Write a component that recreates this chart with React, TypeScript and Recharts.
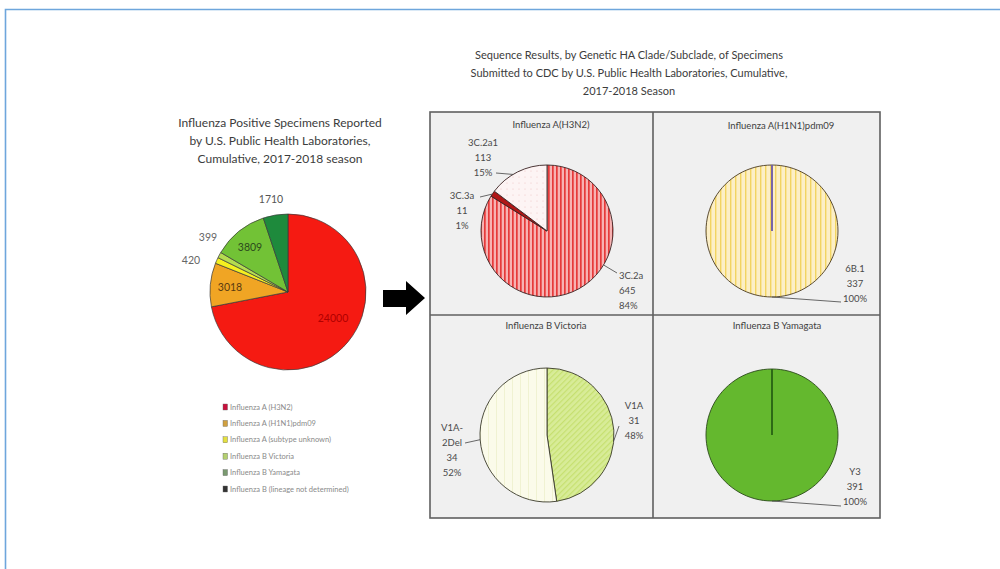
import React from 'react'
import { PieChart, Pie, Cell } from 'recharts'

// Influenza positive specimens, public health labs, cumulative 2017-2018
const typeNames = [
  'Influenza A (H3N2)',
  'Influenza A (H1N1)pdm09',
  'Influenza A (subtype unknown)',
  'Influenza B  Victoria',
  'Influenza B  Yamagata',
  'Influenza B  (lineage not determined)',
]
const typeCounts = [24000, 3018, 420, 399, 3809, 1710]

// sequence results by clade
const h3n2Clades = ['3C.2a', '3C.3a', '3C.2a1']
const h3n2Counts = [645, 11, 113]
const h1n1Clades = ['6B.1']
const h1n1Counts = [337]
const bVicClades = ['V1A', 'V1A-2Del']
const bVicCounts = [31, 34]
const bYamClades = ['Y3']
const bYamCounts = [391]

const toRows = (names: string[], values: number[]) => names.map((name, i) => ({ name, value: values[i] }))

const typeData = toRows(typeNames, typeCounts)
const h3n2Data = toRows(h3n2Clades, h3n2Counts)
const h1n1Data = toRows(h1n1Clades, h1n1Counts)
const bVicData = toRows(bVicClades, bVicCounts)
const bYamData = toRows(bYamClades, bYamCounts)

const typeColors = ['#f51a12', '#f0a524', '#f4f020', '#b5dc50', '#72c236', '#1e8a3c']
const legendColors = ['#c8103c', '#d0a040', '#e4e040', '#b4d070', '#7a9a70', '#333333']
const h3n2Fills = ['url(#pStripeRed)', '#b01616', 'url(#pDotPink)']
const bVicFills = ['url(#pDiagGreen)', 'url(#pCream)']

const FONT = 'Lato, "Open Sans", sans-serif'

type LeftPos = { dx: number; dy: number; color: string }
const leftLabelPos: Record<string, LeftPos> = {
  'Influenza A (H3N2)': { dx: 45, dy: 30, color: '#b00000' },
  'Influenza A (H1N1)pdm09': { dx: -58, dy: -1, color: '#5a3a10' },
  'Influenza A (subtype unknown)': { dx: -97, dy: -28, color: '#666' },
  'Influenza B  Victoria': { dx: -80, dy: -51, color: '#666' },
  'Influenza B  Yamagata': { dx: -38, dy: -41, color: '#2c4a1c' },
  'Influenza B  (lineage not determined)': { dx: -17, dy: -89, color: '#555' },
}

const renderLeftLabel = (p: any) => {
  const pos = leftLabelPos[p.name]
  if (!pos) return null
  return (
    <text x={p.cx + pos.dx} y={p.cy + pos.dy} textAnchor="middle" fontSize={10.5} fontFamily={FONT} fill={pos.color}>
      {p.value}
    </text>
  )
}

type CladePos = {
  tx: number
  ty: number
  anchor: 'start' | 'middle' | 'end'
  lx: number
  ly: number
  edge: number
  split?: boolean
}

const cladeLabelPos: Record<string, CladePos> = {
  '3C.2a': { tx: 72, ty: 48, anchor: 'start', lx: 70, ly: 42, edge: 121 },
  '3C.3a': { tx: -85, ty: -32, anchor: 'middle', lx: -67, ly: -34, edge: 304 },
  '3C.2a1': { tx: -64, ty: -85, anchor: 'middle', lx: -51, ly: -58, edge: 329 },
  '6B.1': { tx: 83, ty: 41, anchor: 'middle', lx: 69, ly: 71, edge: 180 },
  V1A: { tx: 87, ty: -26, anchor: 'middle', lx: 72, ly: -9, edge: 95 },
  'V1A-2Del': { tx: -95, ty: -4, anchor: 'middle', lx: -82, ly: 8, edge: 266, split: true },
  Y3: { tx: 83, ty: 40, anchor: 'middle', lx: 69, ly: 71, edge: 180 },
}

const makeCladeLabel = (spoke?: string) => (p: any) => {
  const pos = cladeLabelPos[p.name]
  if (!pos) return null
  const r = p.outerRadius
  const a = (pos.edge * Math.PI) / 180
  const ex = p.cx + r * Math.sin(a)
  const ey = p.cy - r * Math.cos(a)
  const nameLines = pos.split ? [p.name.split('-')[0] + '-', p.name.split('-')[1]] : [p.name]
  const lines = [...nameLines, String(p.value), `${Math.round(p.percent * 100)}%`]
  return (
    <g>
      {spoke && <line x1={p.cx} y1={p.cy} x2={p.cx} y2={p.cy - r} stroke={spoke} strokeWidth={1.6} />}
      <line x1={ex} y1={ey} x2={p.cx + pos.lx} y2={p.cy + pos.ly} stroke="#444" strokeWidth={0.8} />
      <text textAnchor={pos.anchor} fontSize={9.5} fontFamily={FONT} fill="#4a4a4a">
        {lines.map((l, i) => (
          <tspan key={i} x={p.cx + pos.tx} y={p.cy + pos.ty + i * 15}>
            {l}
          </tspan>
        ))}
      </text>
    </g>
  )
}

const cellTitles = [
  { text: 'Influenza A(H3N2)', x: 551, y: 128 },
  { text: 'Influenza A(H1N1)pdm09', x: 781, y: 129 },
  { text: 'Influenza B Victoria', x: 546, y: 329 },
  { text: 'Influenza B Yamagata', x: 777, y: 329 },
]

function Background() {
  return (
    <svg width={1000} height={569} style={{ position: 'absolute', left: 0, top: 0 }}>
      <defs>
        <pattern id="pStripeRed" patternUnits="userSpaceOnUse" width={4} height={4}>
          <rect width={4} height={4} fill="#f7b2b2" />
          <rect width={1.7} height={4} fill="#e63a3a" />
        </pattern>
        <pattern id="pDotPink" patternUnits="userSpaceOnUse" width={6} height={6}>
          <rect width={6} height={6} fill="#fdf4f4" />
          <circle cx={3} cy={3} r={0.6} fill="#f0c4c4" />
        </pattern>
        <pattern id="pStripeYellow" patternUnits="userSpaceOnUse" width={5} height={5}>
          <rect width={5} height={5} fill="#fcefc6" />
          <rect width={1.4} height={5} fill="#f2d460" />
        </pattern>
        <pattern id="pDiagGreen" patternUnits="userSpaceOnUse" width={4} height={4} patternTransform="rotate(45)">
          <rect width={4} height={4} fill="#d8ec98" />
          <rect width={1.2} height={4} fill="#c6e070" />
        </pattern>
        <pattern id="pCream" patternUnits="userSpaceOnUse" width={8} height={8}>
          <rect width={8} height={8} fill="#fbfbea" />
          <rect width={0.8} height={8} fill="#eef0cc" />
        </pattern>
      </defs>

      <path d="M5.5 569 V9.5 H1000" stroke="#6ea6dc" strokeWidth={1.6} fill="none" />

      <text textAnchor="middle" fontSize={12} fontFamily={FONT} fill="#3c3c3c">
        <tspan x={280} y={127}>Influenza Positive Specimens Reported</tspan>
        <tspan x={280} y={145}>by U.S. Public Health Laboratories,</tspan>
        <tspan x={280} y={163}>Cumulative, 2017-2018 season</tspan>
      </text>

      <text textAnchor="middle" fontSize={11} fontFamily={FONT} fill="#3c3c3c">
        <tspan x={629} y={59}>Sequence Results, by Genetic HA Clade/Subclade, of Specimens</tspan>
        <tspan x={629} y={77}>Submitted to CDC by U.S. Public Health Laboratories, Cumulative,</tspan>
        <tspan x={629} y={95}>2017-2018 Season</tspan>
      </text>

      {typeNames.map((n, i) => (
        <g key={n}>
          <rect x={223} y={404 + i * 16.4} width={4.5} height={6} fill={legendColors[i]} stroke="#666" strokeWidth={0.4} />
          <text x={230} y={409.5 + i * 16.4} fontSize={7.5} fontFamily={FONT} fill="#8a8a8a">
            {n}
          </text>
        </g>
      ))}

      <polygon points="383,290 406,290 406,281 425,298 406,315 406,307 383,307" fill="#000" />

      <rect x={430} y={112} width={450} height={406} fill="#f0f0f0" stroke="#606060" strokeWidth={1.6} />
      <line x1={653} y1={112} x2={653} y2={518} stroke="#606060" strokeWidth={1.6} />
      <line x1={430} y1={315} x2={880} y2={315} stroke="#606060" strokeWidth={1.6} />
      {cellTitles.map((t) => (
        <text key={t.text} x={t.x} y={t.y} textAnchor="middle" fontSize={9.5} fontFamily={FONT} fill="#404040">
          {t.text}
        </text>
      ))}
    </svg>
  )
}

export default function App() {
  return (
    <div style={{ position: 'absolute', left: 0, top: 0, width: 1000, height: 569, background: '#fff', overflow: 'hidden' }}>
      <Background />
      <div style={{ position: 'absolute', left: 0, top: 0 }}>
        <PieChart width={1000} height={569}>
          <Pie
            data={typeData}
            dataKey="value"
            nameKey="name"
            cx={283}
            cy={287}
            outerRadius={78}
            startAngle={90}
            endAngle={-270}
            stroke="#3a3a3a"
            strokeWidth={0.7}
            label={renderLeftLabel}
            labelLine={false}
            isAnimationActive={false}
          >
            {typeData.map((d, i) => (
              <Cell key={d.name} fill={typeColors[i]} />
            ))}
          </Pie>
          <Pie
            data={h3n2Data}
            dataKey="value"
            nameKey="name"
            cx={542}
            cy={226}
            outerRadius={66}
            startAngle={90}
            endAngle={-270}
            stroke="#3a2222"
            strokeWidth={0.9}
            label={makeCladeLabel()}
            labelLine={false}
            isAnimationActive={false}
          >
            {h3n2Data.map((d, i) => (
              <Cell key={d.name} fill={h3n2Fills[i]} />
            ))}
          </Pie>
          <Pie
            data={h1n1Data}
            dataKey="value"
            nameKey="name"
            cx={767}
            cy={226}
            outerRadius={66}
            startAngle={90}
            endAngle={-270}
            stroke="#4a3a20"
            strokeWidth={0.9}
            fill="url(#pStripeYellow)"
            label={makeCladeLabel('#7864c0')}
            labelLine={false}
            isAnimationActive={false}
          />
          <Pie
            data={bVicData}
            dataKey="value"
            nameKey="name"
            cx={542}
            cy={430}
            outerRadius={67}
            startAngle={90}
            endAngle={-270}
            stroke="#3a3a2a"
            strokeWidth={0.9}
            label={makeCladeLabel()}
            labelLine={false}
            isAnimationActive={false}
          >
            {bVicData.map((d, i) => (
              <Cell key={d.name} fill={bVicFills[i]} />
            ))}
          </Pie>
          <Pie
            data={bYamData}
            dataKey="value"
            nameKey="name"
            cx={767}
            cy={430}
            outerRadius={66}
            startAngle={90}
            endAngle={-270}
            stroke="#2a4a1a"
            strokeWidth={0.9}
            fill="#64b82e"
            label={makeCladeLabel('#2a6a14')}
            labelLine={false}
            isAnimationActive={false}
          />
        </PieChart>
      </div>
    </div>
  )
}
